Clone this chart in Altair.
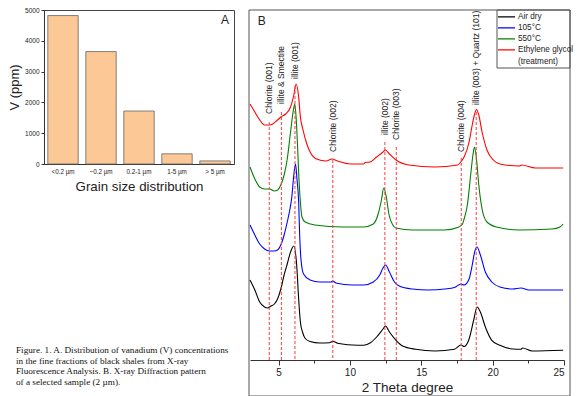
import altair as alt
import pandas as pd

# ---------------- Panel A data ----------------
grain_sizes = ["<0.2 µm", "~0.2 µm", "0.2-1  µm", "1-5 µm", "> 5 µm"]
vanadium_ppm = [4820, 3650, 1720, 330, 100]

# ---------------- Panel B data (2θ in degrees, intensity in arbitrary units) ----------------
series_names = ["Air dry", "105°C", "550°C", "Ethylene glycol"]
series_colors = ["#000000", "#0000FF", "#008000", "#FF0000"]

air_dry_theta = [3.0, 3.34, 3.68, 4.02, 4.23, 4.48, 4.71, 4.93, 5.16, 5.39, 5.61, 5.84, 6.07, 6.29, 6.38,
                 6.53, 6.68, 6.87, 7.21, 7.89, 8.57, 8.8, 9.14, 10.16, 10.96, 11.19, 11.41, 11.87, 12.32,
                 12.49, 12.77, 13.23, 13.69, 14.6, 15.96, 17.32, 17.78, 18.0, 18.35, 18.69, 18.91, 19.14,
                 19.49, 19.94, 20.51, 21.42, 21.98, 22.1, 22.78, 24.94]
air_dry_int = [80, 70, 58, 53, 52, 54, 56, 61, 71, 85, 96, 108, 114, 91, 68,
               38, 28, 21.5, 18.5, 17, 17.3, 18.8, 16.8, 15, 14.7, 15.5, 17, 23, 31,
               34, 28, 19.7, 14, 10.7, 9, 10.7, 15, 13.5, 21, 41, 53, 48,
               33, 19.7, 14.7, 11, 10.7, 12, 9, 9.7]

c105_theta = [3.0, 3.34, 3.68, 4.02, 4.36, 4.71, 4.93, 5.16, 5.39, 5.61, 5.8, 5.93, 6.07, 6.19, 6.29,
              6.41, 6.48, 6.57, 6.75, 7.21, 7.89, 8.68, 8.8, 9.02, 10.16, 10.96, 11.64, 12.09, 12.32,
              12.5, 12.77, 13.12, 13.46, 14.37, 15.5, 16.64, 17.32, 17.78, 18.0, 18.35, 18.57, 18.74,
              18.91, 19.14, 19.49, 19.94, 20.51, 21.42, 21.98, 22.56, 24.94]
c105_int = [135, 125, 116, 111, 109, 109, 110, 115, 125, 138, 151, 163, 185, 196, 181,
            158, 125, 101, 86, 80, 78, 78, 79, 77, 75, 75, 78, 85, 92,
            95, 88, 78, 74, 71, 70, 71, 72.5, 76, 75, 81, 95, 108,
            113, 105, 88, 78, 73, 71, 72, 70, 70]

c550_theta = [3.0, 3.34, 3.68, 4.02, 4.36, 4.71, 4.93, 5.16, 5.39, 5.61, 5.84, 6.02, 6.14, 6.25, 6.34,
              6.43, 6.53, 6.64, 6.87, 7.55, 9.48, 10.96, 11.64, 11.98, 12.21, 12.37, 12.55, 12.73, 13.01,
              13.23, 14.37, 16.64, 17.55, 17.89, 18.0, 18.23, 18.46, 18.62, 18.73, 18.87, 19.03, 19.26,
              19.6, 20.28, 21.87, 24.15, 24.72, 24.94]
c550_int = [193, 181, 173, 171, 171, 169, 170, 175, 185, 201, 228, 248, 256, 238, 211,
            181, 158, 143, 138, 135, 133, 133, 136, 146, 160, 172, 163, 146, 135,
            132, 130, 130, 132.5, 136, 141, 155, 185, 205, 213, 201, 175, 151,
            138, 133, 130, 131, 133, 136]

glycol_theta = [3.0, 3.34, 3.68, 4.02, 4.36, 4.59, 4.93, 5.16, 5.5, 5.84, 6.07, 6.23, 6.41, 6.53, 6.7,
                6.98, 7.21, 7.66, 8.34, 8.75, 9.14, 10.05, 10.96, 11.07, 11.41, 11.87, 12.32, 12.49,
                12.77, 13.23, 14.14, 15.96, 17.55, 17.82, 18.0, 18.35, 18.57, 18.74, 18.87, 19.03,
                19.26, 19.6, 20.05, 20.51, 21.87, 22.03, 23.0, 24.94]
glycol_int = [256, 248, 240, 235, 235, 236, 240, 243, 246, 253, 265, 276, 263, 243, 231,
              216, 208, 201, 199, 201, 199, 196, 196, 197.5, 198, 203, 208, 210,
              206, 200, 195, 193, 195, 199, 203, 218, 235, 246, 250.5, 245,
              228, 210, 200, 196, 194, 195, 192, 192]

# Reflection annotations
peak_pos = [4.35, 5.2, 6.15, 8.8, 12.45, 13.25, 17.8, 18.85]
peak_labels = ["Chlorite (001)", "illite & Smectite", "illite (001)", "Chlorite (002)",
               "illite (002)", "Chlorite (003)", "Chlorite (004)", "illite (003) + Quartz (101)"]
label_base = [246, 256, 281, 208, 225, 220, 208, 255]
line_top = [238, 248, 274, 200, 218, 213, 202, 248]

caption_lines = ["Figure. 1. A. Distribution of vanadium (V) concentrations",
                 "in the fine fractions of black shales from X-ray",
                 "Fluorescence Analysis. B. X-ray Diffraction pattern",
                 "of a selected sample (2 µm)."]

FONT = "Liberation Sans"
TXT = "#222222"
Y_MIN, Y_MAX = 0, 350

# ---------------- Panel A ----------------
df_a = pd.DataFrame({"size": grain_sizes, "V": vanadium_ppm})

bars = alt.Chart(df_a).mark_bar(fill="#FBC896", stroke="#666666", strokeWidth=0.8).encode(
    x=alt.X("size:N", sort=grain_sizes,
            scale=alt.Scale(paddingInner=0.2, paddingOuter=0.1),
            axis=alt.Axis(title="Grain size distribution", labelAngle=0, ticks=False,
                          labelFontSize=6.3, labelPadding=4, titleFontSize=13.3, titlePadding=5)),
    y=alt.Y("V:Q", scale=alt.Scale(domain=[0, 5000], nice=False),
            axis=alt.Axis(title="V (ppm)", values=[0, 1000, 2000, 3000, 4000, 5000], format="d",
                          tickSize=3, labelPadding=2, labelFontSize=6.5, titleFontSize=13,
                          titlePadding=3)),
)

panel_a_label = alt.Chart(pd.DataFrame({"t": ["A"]})).mark_text(
    fontSize=12, align="center", baseline="middle", color=TXT, font=FONT
).encode(text="t:N", x=alt.value(181), y=alt.value(10))

caption = alt.Chart(pd.DataFrame({"c": ["\n".join(caption_lines)]})).mark_text(
    lineBreak="\n", lineHeight=10.7, align="left", baseline="top",
    font="Liberation Serif", fontSize=9.2, color="#111111"
).encode(text="c:N", x=alt.value(-28), y=alt.value(336))

chart_a = alt.layer(bars, panel_a_label, caption).properties(
    width=190, height=154, view=alt.ViewBackground(stroke="#444444", strokeWidth=1))

# ---------------- Panel B ----------------
frames = []
for name, th, iv in [(series_names[0], air_dry_theta, air_dry_int),
                     (series_names[1], c105_theta, c105_int),
                     (series_names[2], c550_theta, c550_int),
                     (series_names[3], glycol_theta, glycol_int)]:
    frames.append(pd.DataFrame({"series": name, "theta": th, "intensity": iv}))
df_b = pd.concat(frames, ignore_index=True)

x_scale = alt.Scale(domain=[3, 25], nice=False, zero=False)
y_scale = alt.Scale(domain=[Y_MIN, Y_MAX], nice=False, zero=False)

lines = alt.Chart(df_b).mark_line(strokeWidth=1.1, interpolate="monotone").encode(
    x=alt.X("theta:Q", scale=x_scale,
            axis=alt.Axis(title="2 Theta degree", values=[5, 10, 15, 20, 25], tickSize=5,
                          labelFontSize=10, labelPadding=2, titleFontSize=13.5, titlePadding=3,
                          orient="bottom")),
    y=alt.Y("intensity:Q", scale=y_scale, axis=None),
    color=alt.Color("series:N", scale=alt.Scale(domain=series_names, range=series_colors),
                    legend=alt.Legend(orient="none", legendX=453, legendY=2, title=None,
                                      symbolType="stroke", symbolSize=289, symbolStrokeWidth=1.2,
                                      labelFontSize=8.2, labelOffset=2, clipHeight=9.7,
                                      rowPadding=0, padding=0, labelColor=TXT, labelFont=FONT)),
    detail="series:N",
)

df_ann = pd.DataFrame({"pos": peak_pos, "label": peak_labels, "base": label_base, "top": line_top})

dashes = alt.Chart(df_ann).mark_rule(color="#FF3B3B", strokeDash=[3, 2], strokeWidth=1).encode(
    x=alt.X("pos:Q", scale=x_scale,
            axis=alt.Axis(values=[7.5, 12.5, 17.5, 22.5], tickSize=3, labels=False, domain=False,
                          title=None, orient="bottom")),
    y=alt.Y("top:Q", scale=y_scale, axis=None),
    y2=alt.datum(Y_MIN),
)

ann_text = alt.Chart(df_ann).mark_text(angle=270, align="left", baseline="middle",
                                       fontSize=8.5, color=TXT, font=FONT).encode(
    x=alt.X("pos:Q", scale=x_scale, axis=None),
    y=alt.Y("base:Q", scale=y_scale, axis=None),
    text="label:N",
)

outer_frame = alt.Chart(pd.DataFrame({"k": [0]})).mark_rect(
    filled=False, stroke="#555555", strokeWidth=1).encode(
    x=alt.value(-1), x2=alt.value(320), y=alt.value(0), y2=alt.value(386))

legend_box = alt.Chart(pd.DataFrame({"k": [0]})).mark_rect(
    filled=False, stroke="#555555", strokeWidth=1).encode(
    x=alt.value(247), x2=alt.value(320), y=alt.value(0), y2=alt.value(58))

treat = alt.Chart(pd.DataFrame({"t": ["(treatment)"]})).mark_text(
    align="left", baseline="middle", fontSize=8.2, color=TXT, font=FONT
).encode(text="t:N", x=alt.value(268), y=alt.value(52))
b_label = alt.Chart(pd.DataFrame({"t": ["B"]})).mark_text(
    align="center", baseline="middle", fontSize=12, color=TXT, font=FONT
).encode(text="t:N", x=alt.value(11.7), y=alt.value(11))

chart_b = alt.layer(outer_frame, legend_box, lines, dashes, ann_text, treat, b_label).resolve_axis(
    x="independent").properties(width=314, height=350,
                                view=alt.ViewBackground(stroke="transparent"))

chart = alt.hconcat(chart_a, chart_b, spacing=12).properties(
    padding={"left": 0, "top": -2, "right": 0, "bottom": 0}
).configure(font=FONT).configure_axis(
    labelFont=FONT, titleFont=FONT, titleFontWeight="normal", labelColor=TXT, titleColor=TXT,
    domainColor="#333333", tickColor="#333333", grid=False
)

chart.save("out.html", embed_options={"renderer": "svg", "actions": False})
